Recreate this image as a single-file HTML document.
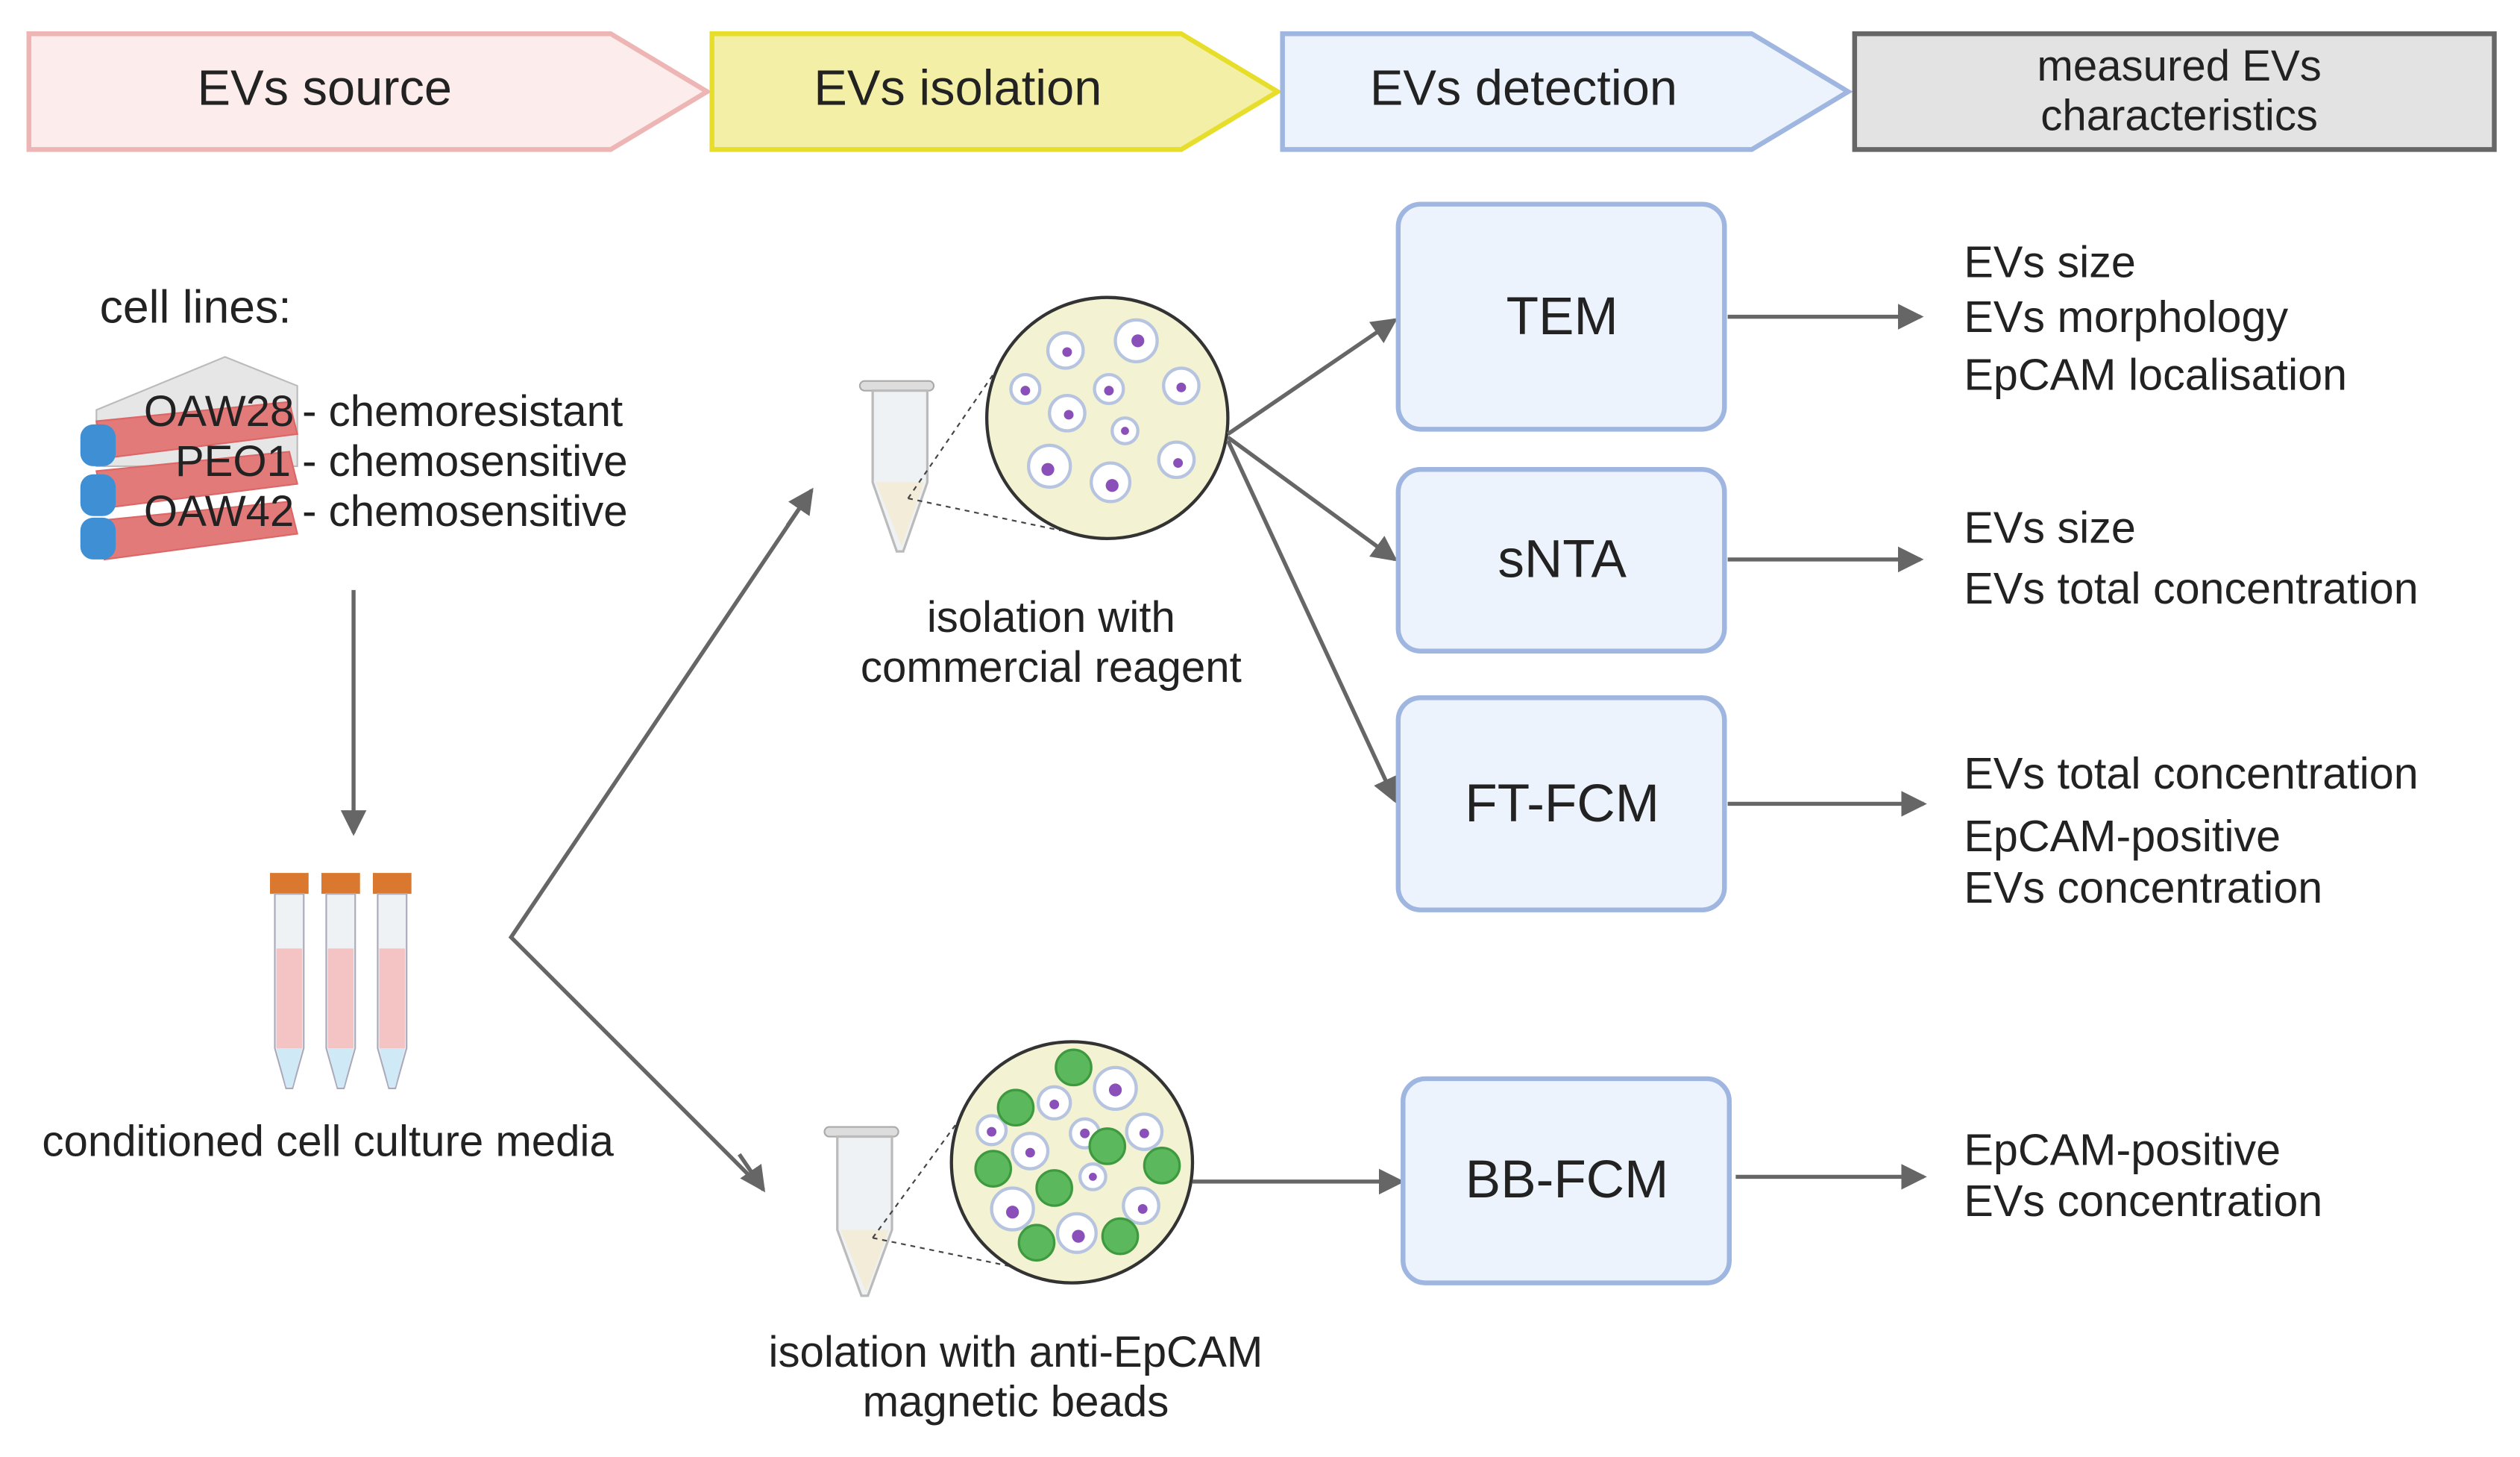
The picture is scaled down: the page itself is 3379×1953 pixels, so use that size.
<!DOCTYPE html>
<html><head><meta charset="utf-8"><style>
html,body{margin:0;padding:0;background:#fff;}
svg{display:block;}
text{font-family:"Liberation Sans",sans-serif;fill:#222;dominant-baseline:central;}
</style></head><body>
<svg width="3379" height="1953" viewBox="0 0 1568 906.3" preserveAspectRatio="none" xmlns="http://www.w3.org/2000/svg">
<defs>
<marker id="ah2" markerWidth="16" markerHeight="16" refX="14" refY="8" orient="auto" markerUnits="userSpaceOnUse" viewBox="0 0 16 16">
<path d="M0,0 L16,8 L0,16 z" fill="#666"/></marker>
</defs>
<!-- header -->
<polygon points="18,21 380,21 440,57 380,93 18,93" fill="#fdecec" stroke="#eeb5b5" stroke-width="3"/>
<text x="202" y="55" font-size="31" text-anchor="middle">EVs source</text>
<polygon points="443,21 735,21 795,57 735,93 443,93" fill="#f3efa6" stroke="#e6de2a" stroke-width="3"/>
<text x="596" y="55" font-size="31" text-anchor="middle">EVs isolation</text>
<polygon points="798,21 1090,21 1150,57 1090,93 798,93" fill="#edf3fc" stroke="#9fb6e0" stroke-width="3"/>
<text x="948" y="55" font-size="31" text-anchor="middle">EVs detection</text>
<rect x="1154" y="21" width="398" height="72" fill="#e3e3e3" stroke="#666" stroke-width="3"/>
<text x="1356" y="41" font-size="27" text-anchor="middle">measured EVs</text>
<text x="1356" y="72" font-size="27" text-anchor="middle">characteristics</text>

<!-- cell lines -->
<text x="62" y="191" font-size="29">cell lines:</text>
<polygon points="60,255 140,222 185,240 185,290 60,290" fill="#e6e6e6" stroke="#bbb"/>
<g fill="#e27a7a" stroke="#d66">
<polygon points="60,262 180,250 185,270 65,285"/>
<polygon points="60,293 180,281 185,301 65,316"/>
<polygon points="60,324 180,312 185,332 65,348"/>
</g>
<g fill="#3e8fd4"><rect x="50" y="264" width="22" height="26" rx="8"/><rect x="50" y="295" width="22" height="26" rx="8"/><rect x="50" y="322" width="22" height="26" rx="8"/></g>
<text x="183" y="256" font-size="27" text-anchor="end">OAW28</text>
<text x="188" y="256" font-size="27">- chemoresistant</text>
<text x="181" y="287" font-size="27" text-anchor="end">PEO1</text>
<text x="188" y="287" font-size="27">- chemosensitive</text>
<text x="183" y="318" font-size="27" text-anchor="end">OAW42</text>
<text x="188" y="318" font-size="27">- chemosensitive</text>

<line x1="220" y1="367" x2="220" y2="518" stroke="#666" stroke-width="2.5" marker-end="url(#ah2)"/>

<!-- falcon tubes -->
<g>
<g transform="translate(168,0)">
<rect x="0" y="543" width="24" height="13" fill="#d9782e"/>
<path d="M3,556 H21 V652 L14,677 H10 L3,652 Z" fill="#eef2f5" stroke="#aab"/>
<rect x="4" y="590" width="16" height="62" fill="#f4c3c3"/>
<path d="M4,652 H20 L14,676 H10 Z" fill="#cfe9f7"/>
</g>
<g transform="translate(200,0)">
<rect x="0" y="543" width="24" height="13" fill="#d9782e"/>
<path d="M3,556 H21 V652 L14,677 H10 L3,652 Z" fill="#eef2f5" stroke="#aab"/>
<rect x="4" y="590" width="16" height="62" fill="#f4c3c3"/>
<path d="M4,652 H20 L14,676 H10 Z" fill="#cfe9f7"/>
</g>
<g transform="translate(232,0)">
<rect x="0" y="543" width="24" height="13" fill="#d9782e"/>
<path d="M3,556 H21 V652 L14,677 H10 L3,652 Z" fill="#eef2f5" stroke="#aab"/>
<rect x="4" y="590" width="16" height="62" fill="#f4c3c3"/>
<path d="M4,652 H20 L14,676 H10 Z" fill="#cfe9f7"/>
</g>
</g>
<text x="204" y="710" font-size="27" text-anchor="middle">conditioned cell culture media</text>

<!-- branch arrows -->
<polyline points="505,305 318,583 475,740" fill="none" stroke="#666" stroke-width="2.5"/>
<line x1="490" y1="327" x2="505" y2="305" stroke="#666" stroke-width="2.5" marker-end="url(#ah2)"/>
<line x1="460" y1="718" x2="475" y2="740" stroke="#666" stroke-width="2.5" marker-end="url(#ah2)"/>

<!-- top eppendorf -->
<g>
<rect x="535" y="237" width="46" height="6" rx="3" fill="#ddd" stroke="#aaa"/>
<path d="M543,243 H577 V300 L562,343 H558 L543,300 Z" fill="#eef2f5" stroke="#bbb" stroke-width="1.5"/>
<path d="M545,300 H575 L561,340 Z" fill="#f3ecd8"/>
<line x1="565" y1="310" x2="620" y2="230" stroke="#444" stroke-dasharray="3,3"/>
<line x1="565" y1="310" x2="660" y2="330" stroke="#444" stroke-dasharray="3,3"/>
<circle cx="689" cy="260" r="75" fill="#f3f2d2" stroke="#333" stroke-width="2"/>
<g fill="#fff" stroke="#b6c4e0" stroke-width="2">
<circle cx="663" cy="218" r="11"/><circle cx="707" cy="212" r="13"/><circle cx="638" cy="242" r="9"/>
<circle cx="664" cy="257" r="11"/><circle cx="690" cy="242" r="9"/><circle cx="735" cy="240" r="11"/>
<circle cx="700" cy="268" r="8"/><circle cx="653" cy="290" r="13"/><circle cx="691" cy="300" r="12"/><circle cx="732" cy="286" r="11"/>
</g>
<g fill="#8a4fb8">
<circle cx="664" cy="219" r="3"/><circle cx="708" cy="212" r="4"/><circle cx="638" cy="243" r="3"/>
<circle cx="665" cy="258" r="3"/><circle cx="690" cy="243" r="3"/><circle cx="735" cy="241" r="3"/>
<circle cx="700" cy="268" r="2.5"/><circle cx="652" cy="292" r="4"/><circle cx="692" cy="302" r="4"/><circle cx="733" cy="288" r="3"/>
</g>
</g>
<text x="654" y="384" font-size="27" text-anchor="middle">isolation with</text>
<text x="654" y="415" font-size="27" text-anchor="middle">commercial reagent</text>

<!-- bottom eppendorf -->
<g>
<rect x="513" y="701" width="46" height="6" rx="3" fill="#ddd" stroke="#aaa"/>
<path d="M521,707 H555 V765 L540,806 H536 L521,765 Z" fill="#eef2f5" stroke="#bbb" stroke-width="1.5"/>
<path d="M523,765 H553 L539,804 Z" fill="#f3ecd8"/>
<line x1="543" y1="770" x2="598" y2="695" stroke="#444" stroke-dasharray="3,3"/>
<line x1="543" y1="770" x2="640" y2="790" stroke="#444" stroke-dasharray="3,3"/>
<circle cx="667" cy="723" r="75" fill="#f3f2d2" stroke="#333" stroke-width="2"/>
<g fill="#fff" stroke="#b6c4e0" stroke-width="2">
<circle cx="656" cy="686" r="10"/><circle cx="694" cy="677" r="13"/><circle cx="617" cy="703" r="9"/>
<circle cx="641" cy="716" r="11"/><circle cx="675" cy="705" r="9"/><circle cx="712" cy="704" r="11"/>
<circle cx="680" cy="732" r="8"/><circle cx="630" cy="752" r="13"/><circle cx="670" cy="767" r="12"/><circle cx="710" cy="750" r="11"/>
</g>
<g fill="#8a4fb8">
<circle cx="656" cy="687" r="3"/><circle cx="694" cy="678" r="4"/><circle cx="617" cy="704" r="3"/>
<circle cx="641" cy="717" r="3"/><circle cx="675" cy="705" r="3"/><circle cx="712" cy="705" r="3"/>
<circle cx="680" cy="732" r="2.5"/><circle cx="630" cy="754" r="4"/><circle cx="671" cy="769" r="4"/><circle cx="711" cy="752" r="3"/>
</g>
<g fill="#5cb85c" stroke="#3f9a3f" stroke-width="1.5">
<circle cx="668" cy="664" r="11"/><circle cx="632" cy="689" r="11"/><circle cx="689" cy="713" r="11"/>
<circle cx="618" cy="727" r="11"/><circle cx="723" cy="725" r="11"/><circle cx="656" cy="739" r="11"/>
<circle cx="697" cy="769" r="11"/><circle cx="645" cy="773" r="11"/>
</g>
</g>
<text x="632" y="841" font-size="27" text-anchor="middle">isolation with anti-EpCAM</text>
<text x="632" y="872" font-size="27" text-anchor="middle">magnetic beads</text>

<!-- connectors -->
<g stroke="#666" stroke-width="2.5" fill="none">
<line x1="764" y1="270" x2="868" y2="199" marker-end="url(#ah2)"/>
<line x1="764" y1="272" x2="868" y2="348" marker-end="url(#ah2)"/>
<line x1="764" y1="274" x2="868" y2="498" marker-end="url(#ah2)"/>
<line x1="742" y1="735" x2="872" y2="735" marker-end="url(#ah2)"/>
<line x1="1075" y1="197" x2="1195" y2="197" marker-end="url(#ah2)"/>
<line x1="1075" y1="348" x2="1195" y2="348" marker-end="url(#ah2)"/>
<line x1="1075" y1="500" x2="1197" y2="500" marker-end="url(#ah2)"/>
<line x1="1080" y1="732" x2="1197" y2="732" marker-end="url(#ah2)"/>
</g>

<!-- boxes -->
<g fill="#edf3fc" stroke="#9fb6e0" stroke-width="3">
<rect x="870" y="127" width="203" height="140" rx="14"/>
<rect x="870" y="292" width="203" height="113" rx="14"/>
<rect x="870" y="434" width="203" height="132" rx="14"/>
<rect x="873" y="671" width="203" height="127" rx="14"/>
</g>
<text x="972" y="197" font-size="33" text-anchor="middle">TEM</text>
<text x="972" y="348" font-size="33" text-anchor="middle">sNTA</text>
<text x="972" y="500" font-size="33" text-anchor="middle">FT-FCM</text>
<text x="975" y="734" font-size="33" text-anchor="middle">BB-FCM</text>

<!-- characteristics -->
<g font-size="27.5">
<text x="1222" y="163">EVs size</text>
<text x="1222" y="197">EVs morphology</text>
<text x="1222" y="233">EpCAM localisation</text>
<text x="1222" y="328">EVs size</text>
<text x="1222" y="366">EVs total concentration</text>
<text x="1222" y="481">EVs total concentration</text>
<text x="1222" y="520">EpCAM-positive</text>
<text x="1222" y="552">EVs concentration</text>
<text x="1222" y="715">EpCAM-positive</text>
<text x="1222" y="747">EVs concentration</text>
</g>
</svg>
</body></html>
